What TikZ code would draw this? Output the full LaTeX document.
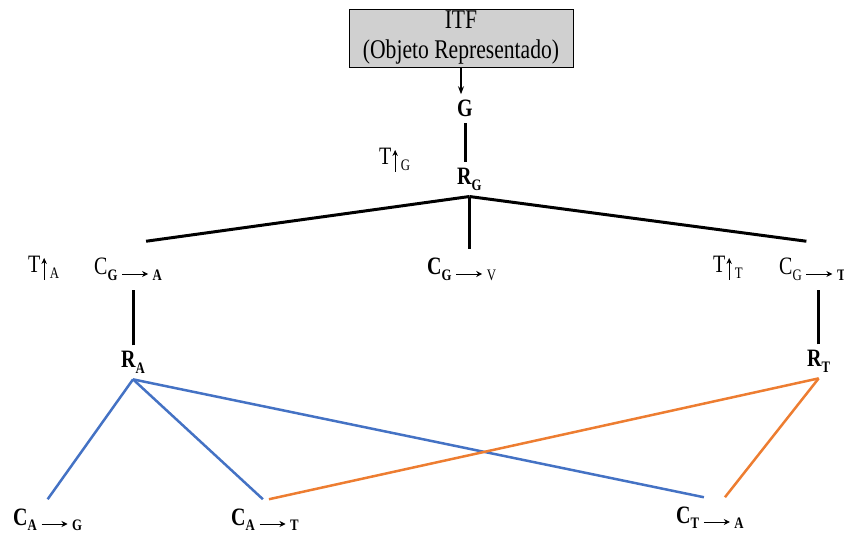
\documentclass[tikz,border=0pt]{standalone}
\usepackage{fontspec}
\setmainfont{Liberation Serif}[FakeStretch=0.8]
\usepackage{xcolor}
\usetikzlibrary{arrows.meta}

\definecolor{lnblue}{HTML}{4472C4}
\definecolor{lnorange}{HTML}{ED7D31}
\definecolor{boxgray}{HTML}{D0D0D0}

% lowered index, long arrow, small up arrow
\newcommand{\lo}[1]{\raisebox{-0.45ex}{\fontsize{16}{16}\selectfont #1}}
\newcommand{\tto}{\,\tikz[baseline=0pt,x=1pt,y=1pt]
  \draw[black,line width=0.9pt,-{Stealth[length=6pt,width=6pt]}] (0,1) -- (26,1);\,}
\newcommand{\tup}{\kern1pt\tikz[baseline=0pt,x=1pt,y=1pt]
  \draw[black,line width=0.7pt,-{Stealth[length=6pt,width=5.5pt]}] (0,-7) -- (0,15);\kern3pt}

\begin{document}
\begin{tikzpicture}[x=1pt,y=-1pt,
  itfbox/.style={draw=black,fill=boxgray,minimum width=224pt,minimum height=58pt,
    inner sep=0pt,align=center,font=\fontsize{27}{30}\selectfont},
  lbl/.style={anchor=base west,inner sep=2pt,font=\fontsize{25}{28}\selectfont},
  rnode/.style={lbl,inner sep=6pt,font=\fontsize{25}{28}\selectfont\bfseries},
  cnode/.style={lbl,inner xsep=2pt,inner ysep=9pt},
  blk/.style={draw=black,line width=3pt},
  blu/.style={draw=lnblue,line width=2.5pt},
  org/.style={draw=lnorange,line width=2.5pt}]
  \useasboundingbox (0,0) rectangle (844,537);
  \node[itfbox] (itf) at (461,38) {ITF\\(Objeto Representado)};
  \node[rnode,anchor=base] (g) at (465,117) {G};
  \node[lbl] (tg) at (377,165) {T\tup\lo{G}};
  \node[rnode] (rg) at (451,185) {R\lo{G}};
  \node[lbl] (ta) at (26,273) {T\tup\lo{A}};
  \node[cnode] (cga) at (92,275) {C\lo{\textbf{G}}\tto\lo{\textbf{A}}};
  \node[cnode] (cgv) at (425,275) {\textbf{C\lo{G}}\tto\lo{V}};
  \node[lbl] (tt) at (711,273) {T\tup\lo{T}};
  \node[cnode] (cgt) at (777,275) {C\lo{G}\tto\lo{\textbf{T}}};
  \node[rnode] (ra) at (115,368) {R\lo{A}};
  \node[rnode] (rt) at (801,367) {R\lo{T}};
  \node[cnode,font=\fontsize{25}{28}\selectfont\bfseries] (cag) at (11,525) {C\lo{A}\tto\lo{G}};
  \node[cnode,font=\fontsize{25}{28}\selectfont\bfseries] (cat) at (229,525) {C\lo{A}\tto\lo{T}};
  \node[cnode,font=\fontsize{25}{28}\selectfont\bfseries] (cta) at (674,523) {C\lo{T}\tto\lo{A}};
  % object to G, G to its rule
  \draw[line width=1.2pt,-{Stealth[length=8pt,width=6pt]}] (itf.south) -- (itf.south |- g.north);
  \draw[blk] (g.south) -- (g.south |- rg.north);
  % rule G to its three children
  \draw[blk] (rg.south) -- ([xshift=18pt,yshift=8pt]cga.north);
  \draw[blk] (rg.south) -- (rg.south |- cgv.north);
  \draw[blk] (rg.south) -- ([xshift=-6pt,yshift=8pt]cgt.north);
  \draw[blk] (ra.north) -- (ra.north |- cga.south);
  \draw[blk] (rt.north) -- (rt.north |- cgt.south);
  % rule A in blue, rule T in orange
  \draw[blu] (ra.south) -- (cag.north);
  \draw[blu] (ra.south) -- ([xshift=-2pt]cat.north);
  \draw[blu] (ra.south) -- ([xshift=-6pt]cta.north);
  \draw[org] (rt.south) -- ([xshift=4pt]cat.north);
  \draw[org] (rt.south) -- ([xshift=15pt]cta.north);
\end{tikzpicture}
\end{document}
